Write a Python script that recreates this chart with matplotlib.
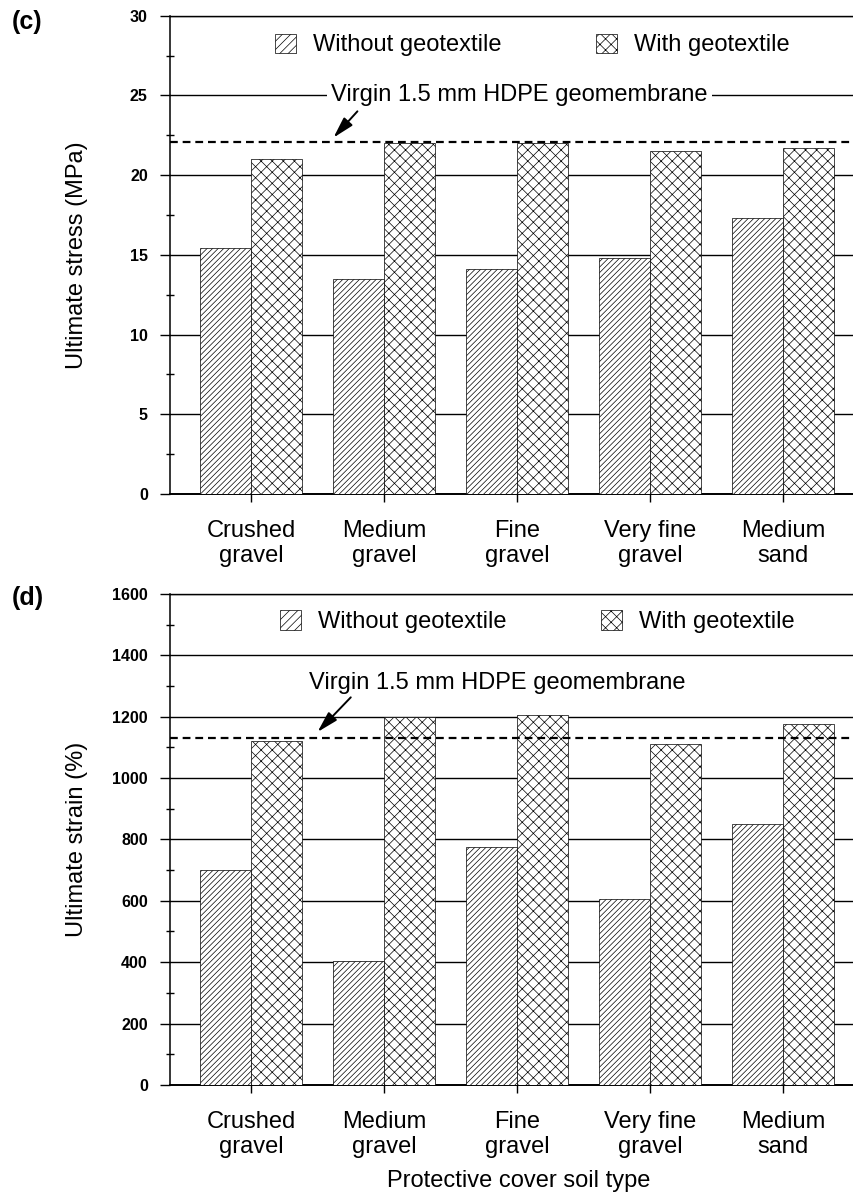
import numpy as np
import matplotlib.pyplot as plt
from matplotlib.patches import Patch
from matplotlib.ticker import MultipleLocator

plt.rcParams['font.family'] = ['Liberation Sans', 'DejaVu Sans']
plt.rcParams['hatch.linewidth'] = 0.5

# data
soils = ['Crushed\ngravel', 'Medium\ngravel', 'Fine\ngravel', 'Very fine\ngravel', 'Medium\nsand']
stress_without = [15.4, 13.5, 14.1, 14.8, 17.3]
stress_with = [21.0, 22.0, 22.0, 21.5, 21.7]
stress_virgin = 22.1
strain_without = [700, 405, 775, 605, 850]
strain_with = [1120, 1200, 1205, 1112, 1176]
strain_virgin = 1130

virgin_text = 'Virgin 1.5 mm HDPE geomembrane'
lab_without = 'Without geotextile'
lab_with = 'With geotextile'

HATCH_WO = '//////'
HATCH_W = 'xxx'

fig = plt.figure(figsize=(8.54, 11.95), dpi=100)
ax1 = fig.add_axes([0.1991, 0.5866, 0.8009, 0.4003])
ax2 = fig.add_axes([0.1991, 0.0921, 0.8009, 0.4109])


def panel(ax, without, withg, virgin, ymax, major, minor, ylabel,
          txt_xy, arrow_from, arrow_to, leg_xy, text_box):
    x = np.arange(len(soils))
    w = 0.38
    ax.bar(x - w/2, without, w, facecolor='white', edgecolor='black',
           linewidth=0.5, hatch=HATCH_WO, zorder=3)
    ax.bar(x + w/2, withg, w, facecolor='white', edgecolor='black',
           linewidth=0.5, hatch=HATCH_W, zorder=3)
    ax.axhline(virgin, color='black', ls=(0, (3.5, 2.2)), lw=1.6, zorder=4)

    ax.set_xlim(-0.609, 4.534)
    ax.set_ylim(0, ymax)
    ax.yaxis.set_major_locator(MultipleLocator(major))
    ax.yaxis.set_minor_locator(MultipleLocator(minor))
    ax.yaxis.grid(True, which='major', color='black', lw=1.0)
    ax.set_xticks(x)
    ax.set_xticklabels(soils, fontsize=17, linespacing=1.15)
    ax.tick_params(axis='x', direction='out', length=6, width=1, pad=13)
    ax.tick_params(axis='y', which='major', direction='out', length=7,
                   width=1, pad=9, labelsize=11.5)
    ax.tick_params(axis='y', which='minor', direction='inout', length=6, width=1)
    for t in ax.get_yticklabels():
        t.set_fontweight('bold')
    ax.spines['right'].set_visible(False)
    ax.spines['left'].set_linewidth(1.1)
    ax.spines['bottom'].set_linewidth(1.4)
    ax.spines['top'].set_linewidth(1.0)

    ax.set_ylabel(ylabel, fontsize=17)
    ax.yaxis.set_label_coords(-0.12, 0.5)

    bbox = dict(facecolor='white', edgecolor='none', pad=3) if text_box else None
    ax.text(txt_xy[0], txt_xy[1], virgin_text, fontsize=17, ha='center',
            va='center', bbox=bbox, zorder=5)
    ax.annotate('', xy=arrow_to, xytext=arrow_from,
                arrowprops=dict(arrowstyle='-|>,head_length=0.8,head_width=0.22',
                                color='black', lw=1.4, shrinkA=0, shrinkB=0,
                                mutation_scale=16), zorder=5)

    handles = [Patch(facecolor='white', edgecolor='black', lw=0.5, hatch='////'),
               Patch(facecolor='white', edgecolor='black', lw=0.5, hatch='xxx')]
    ax.legend(handles, [lab_without, lab_with], ncol=2, frameon=False,
              fontsize=17, loc='center left', bbox_to_anchor=leg_xy,
              borderaxespad=0, borderpad=0, handlelength=0.9,
              handleheight=0.9, handletextpad=0.7, columnspacing=4.0)


panel(ax1, stress_without, stress_with, stress_virgin, 30, 5, 2.5,
      'Ultimate stress (MPa)', (2.02, 25), (0.80, 24.0), (0.62, 22.35),
      (0.1535, 0.9387), True)
panel(ax2, strain_without, strain_with, strain_virgin, 1600, 200, 100,
      'Ultimate strain (%)', (1.85, 1310), (0.75, 1263), (0.50, 1150),
      (0.1608, 0.943), False)

ax2.set_xlabel('Protective cover soil type', fontsize=17)
ax2.xaxis.set_label_coords(0.51, -0.173)

fig.text(12/854, 1 - 22/1195, '(c)', fontsize=18, weight='bold', va='center')
fig.text(12/854, 1 - 598/1195, '(d)', fontsize=18, weight='bold', va='center')

fig.savefig('out.png', dpi=100)
